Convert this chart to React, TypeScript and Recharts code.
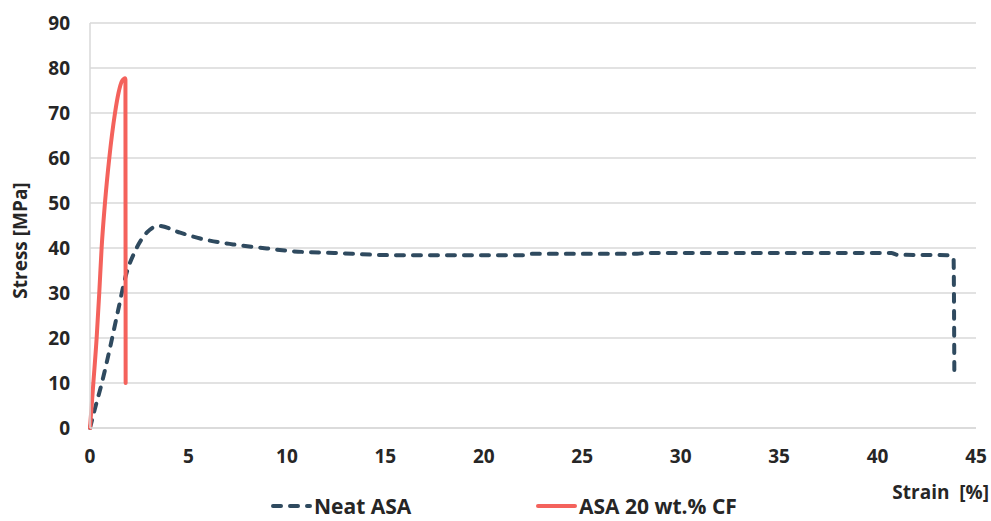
import { LineChart, Line, XAxis, YAxis, CartesianGrid, Legend } from "recharts";

// Neat ASA
const neatStrain = [
  0, 0.25, 0.59, 1.0, 1.42, 1.84, 2.29, 2.88, 3.5, 4.58, 5.6, 7.27, 8.98,
  10.2, 12.4, 15.6, 22.0, 22.4, 27.8, 28.2, 40.7, 41.0, 43.55, 43.86, 43.9,
];
const neatStress = [
  0, 4.3, 9.8, 17.5, 26, 34.2, 39.3, 43.4, 44.9, 43.4, 42.1, 40.8, 39.9, 39.3,
  38.9, 38.4, 38.4, 38.7, 38.7, 38.9, 38.9, 38.5, 38.4, 37.9, 12.5,
];

// ASA 20 wt.% CF
const cfStrain = [0, 0.17, 0.34, 0.47, 0.59, 0.76, 0.98, 1.27, 1.45, 1.61, 1.72, 1.78, 1.8, 1.81];
const cfStress = [0, 10, 20.2, 30, 40, 50, 60, 70, 74.5, 77, 77.6, 77.7, 77.4, 10];

const xTicks = [0, 5, 10, 15, 20, 25, 30, 35, 40, 45];
const yTicks = [0, 10, 20, 30, 40, 50, 60, 70, 80, 90];
const seriesNames = ["Neat ASA", "ASA 20 wt.% CF"];

const FONT = '"Open Sans", sans-serif';
const TEXT = "#262626";
const GRID = "#d9d9d9";

const SERIES: Record<string, { color: string; dash?: string }> = {
  "Neat ASA": { color: "#2f4a5f", dash: "8 9" },
  "ASA 20 wt.% CF": { color: "#f4625c" },
};

const neatData = neatStrain.map((x, i) => ({ strain: x, stress: neatStress[i] }));
const cfData = cfStrain.map((x, i) => ({ strain: x, stress: cfStress[i] }));

const tickStyle = { fontFamily: FONT, fontWeight: 700, fontSize: 19, fill: TEXT };

const renderLegend = (props: any) => {
  const entries = props.payload || [];
  const ordered = seriesNames
    .map((n) => entries.find((e: any) => e.value === n))
    .filter(Boolean);
  return (
    <div style={{ display: "flex", height: 24, alignItems: "center", paddingLeft: 270 }}>
      {ordered.map((entry: any, i: number) => {
        const s = SERIES[entry.value] || { color: entry.color };
        return (
          <div
            key={entry.value}
            style={{ display: "flex", alignItems: "center", width: i === 0 ? 265 : undefined }}
          >
            <svg width={44} height={10}>
              <line
                x1={3}
                y1={5}
                x2={40}
                y2={5}
                stroke={s.color}
                strokeWidth={4}
                strokeLinecap="round"
                strokeDasharray={s.dash}
              />
            </svg>
            <span
              style={{
                fontFamily: FONT,
                fontWeight: 700,
                fontSize: 21,
                lineHeight: "22px",
                color: TEXT,
              }}
            >
              {entry.value}
            </span>
          </div>
        );
      })}
    </div>
  );
};

export default function App() {
  return (
    <div style={{ position: "absolute", left: 0, top: 0, background: "#fff" }}>
      <LineChart width={991} height={521} margin={{ top: 23, right: 15, left: 0, bottom: 3 }}>
        <CartesianGrid vertical={false} stroke={GRID} strokeWidth={1.5} />
        <XAxis
          dataKey="strain"
          type="number"
          domain={[0, 45]}
          ticks={xTicks}
          height={66}
          tickSize={0}
          tickMargin={22}
          tickLine={false}
          axisLine={{ stroke: GRID, strokeWidth: 1.5 }}
          tick={tickStyle}
          label={{
            content: ({ viewBox }: any) => (
              <text
                x={viewBox.x + viewBox.width + 13}
                y={viewBox.y + 71}
                textAnchor="end"
                style={tickStyle}
              >
                {"Strain\u00a0 [%]"}
              </text>
            ),
          }}
        />
        <YAxis
          type="number"
          domain={[0, 90]}
          ticks={yTicks}
          width={90}
          tickSize={0}
          tickMargin={20}
          tickLine={false}
          axisLine={{ stroke: GRID, strokeWidth: 1.5 }}
          tick={tickStyle}
          label={{
            content: ({ viewBox }: any) => {
              const cx = viewBox.x + 20;
              const cy = viewBox.y + viewBox.height / 2 + 15;
              return (
                <text
                  x={cx}
                  y={cy}
                  textAnchor="middle"
                  dominantBaseline="central"
                  transform={`rotate(-90 ${cx} ${cy})`}
                  style={tickStyle}
                >
                  Stress [MPa]
                </text>
              );
            },
          }}
        />
        <Legend
          verticalAlign="bottom"
          content={renderLegend}
          wrapperStyle={{ left: 0, width: 991, bottom: 3 }}
        />
        <Line
          data={neatData}
          dataKey="stress"
          name="Neat ASA"
          type="monotone"
          stroke={SERIES["Neat ASA"].color}
          strokeWidth={4}
          strokeDasharray={SERIES["Neat ASA"].dash}
          strokeLinecap="round"
          dot={false}
          activeDot={false}
          isAnimationActive={false}
        />
        <Line
          data={cfData}
          dataKey="stress"
          name="ASA 20 wt.% CF"
          type="monotone"
          stroke={SERIES["ASA 20 wt.% CF"].color}
          strokeWidth={4}
          strokeLinecap="round"
          dot={false}
          activeDot={false}
          isAnimationActive={false}
        />
      </LineChart>
    </div>
  );
}
